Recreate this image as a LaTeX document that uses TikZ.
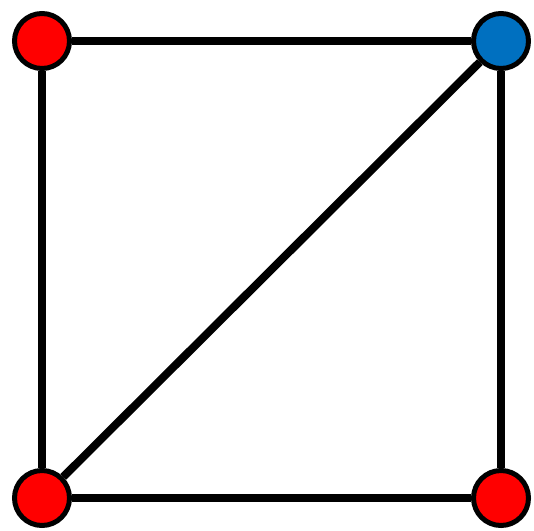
\documentclass[tikz,border=0pt]{standalone}
\usepackage{tikz}

\definecolor{vred}{RGB}{255,0,0}
\definecolor{vblue}{RGB}{0,112,192}

\begin{document}
\begin{tikzpicture}[
    x=1pt, y=-1pt,
    vertex/.style={circle, draw, line width=5pt, minimum size=55pt, inner sep=0pt},
    edge/.style={line width=8pt}
]
\useasboundingbox (0,0) rectangle (534,530);

\node[vertex, fill=vred]  (tl) at (42, 41)  {};
\node[vertex, fill=vblue] (tr) at (501, 41) {};
\node[vertex, fill=vred]  (bl) at (42, 498) {};
\node[vertex, fill=vred]  (br) at (501, 498){};

\draw[edge] (tl) -- (tr);
\draw[edge] (tr) -- (br);
\draw[edge] (br) -- (bl);
\draw[edge] (bl) -- (tl);
\draw[edge] (bl) -- (tr);
\end{tikzpicture}
\end{document}
